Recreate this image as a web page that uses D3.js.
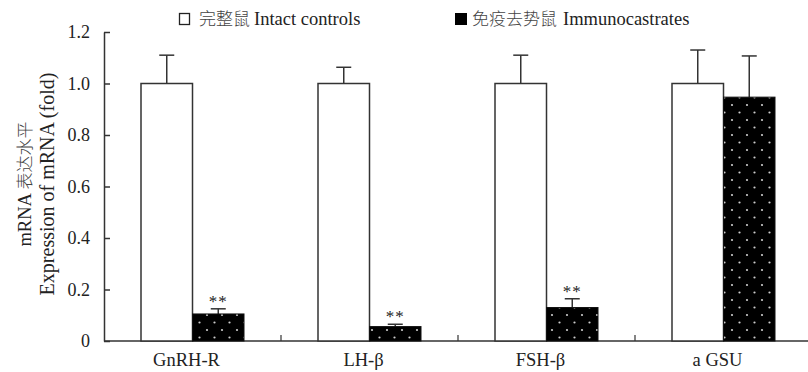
<!DOCTYPE html>
<html><head><meta charset="utf-8">
<script src="https://cdn.jsdelivr.net/npm/d3@7"></script>
<style>
html,body{margin:0;padding:0;background:#fff;}
svg{display:block;}
text{font-family:"Liberation Serif",serif;fill:#222;}
.cjk{font-family:"Noto Sans CJK SC",sans-serif;fill:#444;font-weight:300;}
</style></head>
<body>
<svg id="chart" width="808" height="372"></svg>
<script>
const categories = ["GnRH-R", "LH-β", "FSH-β", "a GSU"];
const controls = [1.0, 1.0, 1.0, 1.0];
const controlsErr = [0.11, 0.063, 0.11, 0.13];
const immuno = [0.105, 0.056, 0.13, 0.947];
const immunoErr = [0.02, 0.009, 0.034, 0.16];
const sigMarks = ["**", "**", "**", ""];
const yTicks = [0, 0.2, 0.4, 0.6, 0.8, 1.0, 1.2];
const yTickLabels = ["0", "0.2", "0.4", "0.6", "0.8", "1.0", "1.2"];
const seriesNamesZh = ["完整鼠", "免疫去势鼠"];
const seriesNamesEn = ["Intact controls", "Immunocastrates"];
const yTitleZh = "表达水平";
const yTitleLine1 = "mRNA ";
const yTitleLine2 = "Expression of mRNA (fold)";

const svg = d3.select("#chart");
const x0 = 104, x1 = 812, yTop = 32, yBot = 341;

const defs = svg.append("defs");
const pat = defs.append("pattern").attr("id", "dots")
  .attr("patternUnits", "userSpaceOnUse")
  .attr("width", 15).attr("height", 15)
  .attr("x", 1).attr("y", 4);
pat.append("rect").attr("width", 15).attr("height", 15).attr("fill", "#000");
pat.append("circle").attr("cx", 3.5).attr("cy", 3.5).attr("r", 1.1).attr("fill", "#ccc");
pat.append("circle").attr("cx", 11).attr("cy", 11).attr("r", 1.1).attr("fill", "#ccc");

const x = d3.scaleBand().domain(categories).range([x0, x1]).padding(0);
const y = d3.scaleLinear().domain([0, 1.2]).range([yBot, yTop]);
const bw = 51.5;

// Y axis
const yAxis = d3.axisLeft(y).tickValues(yTicks)
  .tickFormat((d, i) => yTickLabels[i])
  .tickSizeInner(-6).tickSizeOuter(0).tickPadding(14);
const gy = svg.append("g").attr("transform", `translate(${x0},0)`).call(yAxis);
gy.attr("font-family", null);
gy.select(".domain").attr("stroke", "#333").attr("stroke-width", 1.5);
gy.selectAll(".tick line").attr("stroke", "#333").attr("stroke-width", 1.5);
gy.selectAll(".tick text").attr("font-size", 18).attr("fill", "#222");

// X axis baseline
svg.append("line").attr("x1", x0).attr("x2", 808).attr("y1", yBot).attr("y2", yBot)
  .attr("stroke", "#333").attr("stroke-width", 1.5);
categories.slice(1).forEach(c => {
  svg.append("line").attr("x1", x(c)).attr("x2", x(c)).attr("y1", yBot).attr("y2", yBot - 6)
    .attr("stroke", "#333").attr("stroke-width", 1.2);
});
svg.selectAll(".xlab").data(categories).enter().append("text")
  .attr("x", d => x(d) + x.bandwidth() / 2 - 6)
  .attr("y", 366).attr("text-anchor", "middle").attr("font-size", 18.5)
  .text(d => d);

const cx = c => x(c) + x.bandwidth() / 2;

function errBar(xc, v, e) {
  svg.append("line").attr("x1", xc).attr("x2", xc).attr("y1", y(v)).attr("y2", y(v + e))
    .attr("stroke", "#333").attr("stroke-width", 1.5);
  svg.append("line").attr("x1", xc - 7.5).attr("x2", xc + 7.5).attr("y1", y(v + e)).attr("y2", y(v + e))
    .attr("stroke", "#333").attr("stroke-width", 1.5);
}

categories.forEach((c, i) => {
  const m = cx(c);
  errBar(m - bw / 2, controls[i], controlsErr[i]);
  svg.append("rect").attr("x", m - bw).attr("y", y(controls[i]))
    .attr("width", bw).attr("height", y(0) - y(controls[i]))
    .attr("fill", "#fff").attr("stroke", "#333").attr("stroke-width", 1.5);
  errBar(m + bw / 2, immuno[i], immunoErr[i]);
  svg.append("rect").attr("x", m).attr("y", y(immuno[i]))
    .attr("width", bw).attr("height", y(0) - y(immuno[i]))
    .attr("fill", "url(#dots)").attr("stroke", "#111").attr("stroke-width", 1);
  if (sigMarks[i]) {
    svg.append("text").attr("x", m + bw / 2).attr("y", y(immuno[i] + immunoErr[i]) - 2)
      .attr("text-anchor", "middle").attr("font-size", 17).attr("fill", "#555")
      .attr("letter-spacing", 1)
      .text(sigMarks[i]);
  }
});

// legend
const lg = svg.append("g");
lg.append("rect").attr("x", 179.5).attr("y", 13.5).attr("width", 10).attr("height", 11)
  .attr("fill", "#fff").attr("stroke", "#222").attr("stroke-width", 1.3);
const t1 = lg.append("text").attr("x", 199).attr("y", 25).attr("font-size", 18.5);
t1.append("tspan").attr("class", "cjk").attr("font-size", 17).text(seriesNamesZh[0]);
t1.append("tspan").attr("dx", 4).text(seriesNamesEn[0]);
lg.append("rect").attr("x", 455).attr("y", 13).attr("width", 12).attr("height", 12).attr("fill", "#000");
const t2 = lg.append("text").attr("x", 472).attr("y", 25).attr("font-size", 18.5);
t2.append("tspan").attr("class", "cjk").attr("font-size", 17).text(seriesNamesZh[1]);
t2.append("tspan").attr("dx", 6).text(seriesNamesEn[1]);

// y title
const yt = svg.append("g").attr("transform", "translate(0,184) rotate(-90)");
const l1 = yt.append("text").attr("x", 0).attr("y", 31).attr("text-anchor", "middle").attr("font-size", 18.5);
l1.append("tspan").text(yTitleLine1);
l1.append("tspan").attr("class", "cjk").attr("font-size", 17).text(yTitleZh);
yt.append("text").attr("x", 0).attr("y", 54).attr("text-anchor", "middle").attr("font-size", 20).text(yTitleLine2);
</script>
</body></html>
